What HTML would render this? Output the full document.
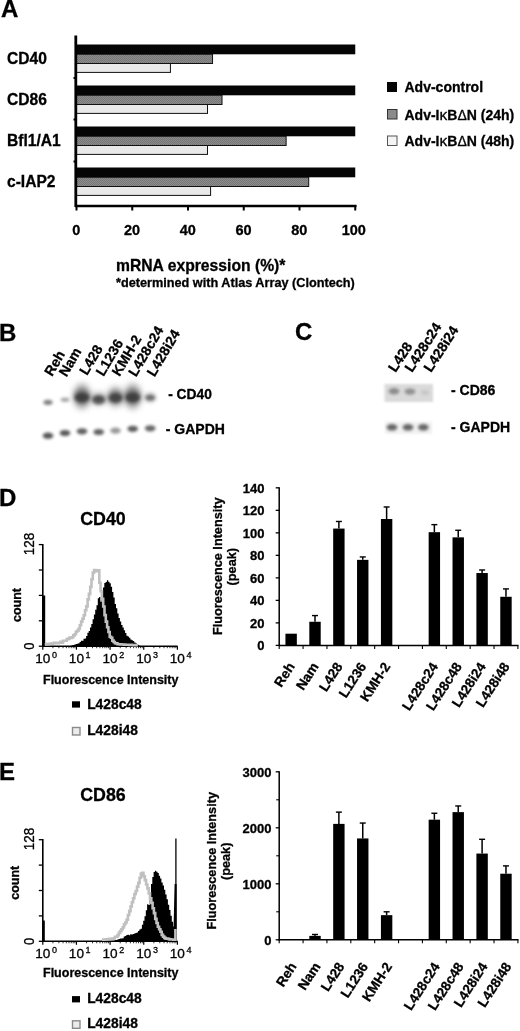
<!DOCTYPE html>
<html lang="en"><head><meta charset="utf-8"><title>Figure</title>
<style>
html,body{margin:0;padding:0;background:#fff;}
body{width:520px;height:1031px;overflow:hidden;}
svg{display:block;font-family:"Liberation Sans", Arial, Helvetica, sans-serif;}
text{fill:#000;stroke:#000;stroke-width:0.3px;}
svg{filter:grayscale(1);}
</style></head><body>
<svg width="520" height="1031" viewBox="0 0 520 1031">
<defs>
<pattern id="halftone" width="2" height="2" patternUnits="userSpaceOnUse"><rect width="2" height="2" fill="#8c8c8c"/><rect width="1" height="1" fill="#747474"/><rect x="1" y="1" width="1" height="1" fill="#787878"/></pattern>
<filter id="b1" x="-30%" y="-30%" width="160%" height="160%"><feGaussianBlur stdDeviation="0.8"/></filter>
<filter id="b2" x="-50%" y="-80%" width="200%" height="260%"><feGaussianBlur stdDeviation="1.4"/></filter>
<filter id="b3" x="-50%" y="-50%" width="200%" height="200%"><feGaussianBlur stdDeviation="2.2"/></filter>
<filter id="b4" x="-60%" y="-60%" width="220%" height="220%"><feGaussianBlur stdDeviation="3"/></filter>
</defs>
<rect width="520" height="1031" fill="#fff"/>

<g id="panelA">
<text x="1" y="17.4" font-size="24" font-weight="bold" text-anchor="start">A</text>
<text x="7" y="64.0" font-size="15.6" font-weight="bold" text-anchor="start">CD40</text>
<rect x="76.50" y="44.50" width="278.75" height="9.80" fill="#050505"/>
<rect x="76.50" y="54.30" width="136.03" height="9.20" fill="url(#halftone)" stroke="#111" stroke-width="1"/>
<rect x="76.50" y="63.50" width="93.94" height="8.90" fill="#e9e9e9" stroke="#111" stroke-width="1"/>
<text x="7" y="105.0" font-size="15.6" font-weight="bold" text-anchor="start">CD86</text>
<rect x="76.50" y="85.50" width="278.75" height="9.80" fill="#050505"/>
<rect x="76.50" y="95.30" width="145.51" height="9.20" fill="url(#halftone)" stroke="#111" stroke-width="1"/>
<rect x="76.50" y="104.50" width="131.01" height="8.90" fill="#e9e9e9" stroke="#111" stroke-width="1"/>
<text x="7" y="145.5" font-size="15.6" font-weight="bold" text-anchor="start">Bfl1/A1</text>
<rect x="76.50" y="126.50" width="278.75" height="9.80" fill="#050505"/>
<rect x="76.50" y="136.30" width="209.62" height="9.20" fill="url(#halftone)" stroke="#111" stroke-width="1"/>
<rect x="76.50" y="145.50" width="131.01" height="8.90" fill="#e9e9e9" stroke="#111" stroke-width="1"/>
<text x="7" y="187.0" font-size="15.6" font-weight="bold" text-anchor="start">c-IAP2</text>
<rect x="76.50" y="167.50" width="278.75" height="9.80" fill="#050505"/>
<rect x="76.50" y="177.30" width="232.20" height="9.20" fill="url(#halftone)" stroke="#111" stroke-width="1"/>
<rect x="76.50" y="186.50" width="134.08" height="8.90" fill="#e9e9e9" stroke="#111" stroke-width="1"/>
<line x1="75.80" y1="35.50" x2="75.80" y2="207.00" stroke="#000" stroke-width="2.8"/>
<line x1="75.00" y1="206.00" x2="356.50" y2="206.00" stroke="#000" stroke-width="2.4"/>
<line x1="76.50" y1="205.00" x2="76.50" y2="210.50" stroke="#000" stroke-width="2"/>
<text x="76.3" y="234.5" font-size="14.5" font-weight="bold" text-anchor="middle">0</text>
<line x1="132.25" y1="205.00" x2="132.25" y2="210.50" stroke="#000" stroke-width="2"/>
<text x="132.05" y="234.5" font-size="14.5" font-weight="bold" text-anchor="middle">20</text>
<line x1="188.00" y1="205.00" x2="188.00" y2="210.50" stroke="#000" stroke-width="2"/>
<text x="187.8" y="234.5" font-size="14.5" font-weight="bold" text-anchor="middle">40</text>
<line x1="243.75" y1="205.00" x2="243.75" y2="210.50" stroke="#000" stroke-width="2"/>
<text x="243.55" y="234.5" font-size="14.5" font-weight="bold" text-anchor="middle">60</text>
<line x1="299.50" y1="205.00" x2="299.50" y2="210.50" stroke="#000" stroke-width="2"/>
<text x="299.3" y="234.5" font-size="14.5" font-weight="bold" text-anchor="middle">80</text>
<line x1="355.25" y1="205.00" x2="355.25" y2="210.50" stroke="#000" stroke-width="2"/>
<text x="353.75" y="234.5" font-size="14.5" font-weight="bold" text-anchor="middle">100</text>
<line x1="73.50" y1="78.00" x2="76.00" y2="78.00" stroke="#000" stroke-width="2"/>
<line x1="73.50" y1="119.50" x2="76.00" y2="119.50" stroke="#000" stroke-width="2"/>
<line x1="73.50" y1="161.50" x2="76.00" y2="161.50" stroke="#000" stroke-width="2"/>
<text x="116" y="270.5" font-size="15.7" font-weight="bold" text-anchor="start">mRNA expression (%)*</text>
<text x="116" y="286.5" font-size="12.7" font-weight="bold" text-anchor="start">*determined with Atlas Array (Clontech)</text>
<rect x="387.00" y="82.00" width="10.00" height="10.00" fill="#050505"/>
<rect x="387.50" y="109.50" width="9.50" height="9.50" fill="#8a8a8a" stroke="#333" stroke-width="1"/>
<rect x="387.50" y="136.00" width="9.50" height="9.50" fill="#f4f4f4" stroke="#555" stroke-width="1"/>
<text x="404.5" y="92.2" font-size="14" font-weight="bold" text-anchor="start">Adv-control</text>
<text x="404.5" y="119.5" font-size="14" font-weight="bold" text-anchor="start">Adv-I<tspan font-weight="normal" font-size="15.5">κ</tspan>B<tspan font-weight="normal" font-size="14">Δ</tspan>N (24h)</text>
<text x="404.5" y="146.3" font-size="14" font-weight="bold" text-anchor="start">Adv-I<tspan font-weight="normal" font-size="15.5">κ</tspan>B<tspan font-weight="normal" font-size="14">Δ</tspan>N (48h)</text>
</g>
<g id="panelB">
<text x="-1" y="341" font-size="24" font-weight="bold" text-anchor="start">B</text>
<text x="52" y="377" font-size="14" font-weight="bold" text-anchor="start" transform="rotate(-59.5 52 377)">Reh</text>
<text x="66.5" y="377.5" font-size="14" font-weight="bold" text-anchor="start" transform="rotate(-59.5 66.5 377.5)">Nam</text>
<text x="87" y="376" font-size="14" font-weight="bold" text-anchor="start" transform="rotate(-59.5 87 376)">L428</text>
<text x="103.5" y="377" font-size="14" font-weight="bold" text-anchor="start" transform="rotate(-59.5 103.5 377)">L1236</text>
<text x="119.5" y="377" font-size="14" font-weight="bold" text-anchor="start" transform="rotate(-59.5 119.5 377)">KMH-2</text>
<text x="136" y="377.5" font-size="14" font-weight="bold" text-anchor="start" transform="rotate(-59.5 136 377.5)">L428c24</text>
<text x="154.5" y="377.5" font-size="14" font-weight="bold" text-anchor="start" transform="rotate(-59.5 154.5 377.5)">L428i24</text>
<ellipse cx="48" cy="402.3" rx="4.6" ry="2.6" fill="#000" fill-opacity="0.5" filter="url(#b2)"/>
<ellipse cx="65" cy="399.8" rx="4.4" ry="2.2" fill="#000" fill-opacity="0.34" filter="url(#b2)"/>
<ellipse cx="82" cy="396.3" rx="8.6" ry="12.5" fill="#000" fill-opacity="0.36" filter="url(#b4)"/>
<ellipse cx="82" cy="396.8" rx="8.299999999999999" ry="7.5" fill="#000" fill-opacity="0.34" filter="url(#b3)"/>
<ellipse cx="82" cy="397.5" rx="7.3999999999999995" ry="4.6" fill="#000" fill-opacity="0.42" filter="url(#b2)"/>
<ellipse cx="98.7" cy="398.8" rx="7.4" ry="6.0" fill="#000" fill-opacity="0.36" filter="url(#b4)"/>
<ellipse cx="98.7" cy="399.3" rx="7.1000000000000005" ry="3.5999999999999996" fill="#000" fill-opacity="0.34" filter="url(#b3)"/>
<ellipse cx="98.7" cy="400.0" rx="6.2" ry="4.6" fill="#000" fill-opacity="0.36" filter="url(#b2)"/>
<ellipse cx="115.5" cy="396.8" rx="8.0" ry="10" fill="#000" fill-opacity="0.36" filter="url(#b4)"/>
<ellipse cx="115.5" cy="397.3" rx="7.7" ry="6.0" fill="#000" fill-opacity="0.34" filter="url(#b3)"/>
<ellipse cx="115.5" cy="398.0" rx="6.8" ry="4.6" fill="#000" fill-opacity="0.38" filter="url(#b2)"/>
<ellipse cx="132.7" cy="396.3" rx="8.6" ry="12.5" fill="#000" fill-opacity="0.36" filter="url(#b4)"/>
<ellipse cx="132.7" cy="396.8" rx="8.299999999999999" ry="7.5" fill="#000" fill-opacity="0.34" filter="url(#b3)"/>
<ellipse cx="132.7" cy="397.5" rx="7.3999999999999995" ry="4.6" fill="#000" fill-opacity="0.42" filter="url(#b2)"/>
<ellipse cx="150.2" cy="397.5" rx="5.6" ry="4.4" fill="#000" fill-opacity="0.34" filter="url(#b3)"/>
<ellipse cx="150.2" cy="397.8" rx="4.8" ry="2.7" fill="#000" fill-opacity="0.36" filter="url(#b2)"/>
<ellipse cx="48" cy="435.7" rx="5.3" ry="3.1" fill="#000" fill-opacity="0.66" filter="url(#b2)"/>
<ellipse cx="65" cy="433" rx="5.3" ry="3.1" fill="#000" fill-opacity="0.66" filter="url(#b2)"/>
<ellipse cx="82" cy="431.3" rx="5.3" ry="3.1" fill="#000" fill-opacity="0.62" filter="url(#b2)"/>
<ellipse cx="98.7" cy="432" rx="5.3" ry="3.1" fill="#000" fill-opacity="0.62" filter="url(#b2)"/>
<ellipse cx="115.5" cy="430.6" rx="5.3" ry="3.1" fill="#000" fill-opacity="0.4" filter="url(#b2)"/>
<ellipse cx="132.7" cy="428.8" rx="5.3" ry="3.1" fill="#000" fill-opacity="0.64" filter="url(#b2)"/>
<ellipse cx="150.2" cy="428.3" rx="5.3" ry="3.1" fill="#000" fill-opacity="0.6" filter="url(#b2)"/>
<text x="168.2" y="399.3" font-size="13.8" font-weight="bold" text-anchor="start">- CD40</text>
<text x="165.8" y="434.2" font-size="14" font-weight="bold" text-anchor="start">- GAPDH</text>
</g>
<g id="panelC">
<text x="295" y="340" font-size="24" font-weight="bold" text-anchor="start">C</text>
<text x="395.5" y="373" font-size="14" font-weight="bold" text-anchor="start" transform="rotate(-57 395.5 373)">L428</text>
<text x="412" y="373" font-size="14" font-weight="bold" text-anchor="start" transform="rotate(-57 412 373)">L428c24</text>
<text x="431" y="373" font-size="14" font-weight="bold" text-anchor="start" transform="rotate(-57 431 373)">L428i24</text>
<rect x="384.5" y="384" width="48.5" height="18" fill="#dadada" filter="url(#b1)"/>
<ellipse cx="394" cy="391.2" rx="5.4" ry="3.2" fill="#000" fill-opacity="0.36" filter="url(#b2)"/>
<ellipse cx="410" cy="391.6" rx="5.4" ry="3.2" fill="#000" fill-opacity="0.34" filter="url(#b2)"/>
<ellipse cx="425" cy="392.5" rx="4" ry="2.6" fill="#000" fill-opacity="0.09" filter="url(#b2)"/>
<rect x="385" y="421.5" width="47" height="12.5" fill="#f1f1f1" filter="url(#b1)"/>
<ellipse cx="392" cy="427.3" rx="5.3" ry="3.3" fill="#000" fill-opacity="0.58" filter="url(#b2)"/>
<ellipse cx="408" cy="427.3" rx="5.3" ry="3.3" fill="#000" fill-opacity="0.58" filter="url(#b2)"/>
<ellipse cx="423.3" cy="427.3" rx="5.3" ry="3.3" fill="#000" fill-opacity="0.58" filter="url(#b2)"/>
<text x="451" y="394.5" font-size="14" font-weight="bold" text-anchor="start">- CD86</text>
<text x="451" y="432" font-size="14" font-weight="bold" text-anchor="start">- GAPDH</text>
</g>
<text x="-1" y="506" font-size="24" font-weight="bold" text-anchor="start">D</text>
<g id="histD">
<text x="103" y="524.6" font-size="17.8" font-weight="bold" text-anchor="middle">CD40</text>
<line x1="42.80" y1="544.00" x2="42.80" y2="646.70" stroke="#000" stroke-width="1.6"/>
<line x1="42.30" y1="646.20" x2="177.60" y2="646.20" stroke="#000" stroke-width="1.6"/>
<line x1="38.80" y1="646.20" x2="42.80" y2="646.20" stroke="#000" stroke-width="1.3"/>
<line x1="38.80" y1="620.80" x2="42.80" y2="620.80" stroke="#000" stroke-width="1.3"/>
<line x1="38.80" y1="595.40" x2="42.80" y2="595.40" stroke="#000" stroke-width="1.3"/>
<line x1="38.80" y1="570.00" x2="42.80" y2="570.00" stroke="#000" stroke-width="1.3"/>
<line x1="38.80" y1="544.60" x2="42.80" y2="544.60" stroke="#000" stroke-width="1.3"/>
<line x1="42.80" y1="646.20" x2="42.80" y2="649.70" stroke="#000" stroke-width="1.2"/>
<line x1="52.93" y1="646.20" x2="52.93" y2="648.20" stroke="#000" stroke-width="0.8"/>
<line x1="58.86" y1="646.20" x2="58.86" y2="648.20" stroke="#000" stroke-width="0.8"/>
<line x1="63.06" y1="646.20" x2="63.06" y2="648.20" stroke="#000" stroke-width="0.8"/>
<line x1="66.32" y1="646.20" x2="66.32" y2="648.20" stroke="#000" stroke-width="0.8"/>
<line x1="68.98" y1="646.20" x2="68.98" y2="648.20" stroke="#000" stroke-width="0.8"/>
<line x1="71.24" y1="646.20" x2="71.24" y2="648.20" stroke="#000" stroke-width="0.8"/>
<line x1="73.19" y1="646.20" x2="73.19" y2="648.20" stroke="#000" stroke-width="0.8"/>
<line x1="74.91" y1="646.20" x2="74.91" y2="648.20" stroke="#000" stroke-width="0.8"/>
<text x="35.199999999999996" y="662.7" font-size="13.6" font-weight="normal" text-anchor="start">10<tspan font-size="9" dy="-5" dx="1.6">0</tspan></text>
<line x1="76.45" y1="646.20" x2="76.45" y2="649.70" stroke="#000" stroke-width="1.2"/>
<line x1="86.58" y1="646.20" x2="86.58" y2="648.20" stroke="#000" stroke-width="0.8"/>
<line x1="92.51" y1="646.20" x2="92.51" y2="648.20" stroke="#000" stroke-width="0.8"/>
<line x1="96.71" y1="646.20" x2="96.71" y2="648.20" stroke="#000" stroke-width="0.8"/>
<line x1="99.97" y1="646.20" x2="99.97" y2="648.20" stroke="#000" stroke-width="0.8"/>
<line x1="102.63" y1="646.20" x2="102.63" y2="648.20" stroke="#000" stroke-width="0.8"/>
<line x1="104.89" y1="646.20" x2="104.89" y2="648.20" stroke="#000" stroke-width="0.8"/>
<line x1="106.84" y1="646.20" x2="106.84" y2="648.20" stroke="#000" stroke-width="0.8"/>
<line x1="108.56" y1="646.20" x2="108.56" y2="648.20" stroke="#000" stroke-width="0.8"/>
<text x="68.85" y="662.7" font-size="13.6" font-weight="normal" text-anchor="start">10<tspan font-size="9" dy="-5" dx="1.6">1</tspan></text>
<line x1="110.10" y1="646.20" x2="110.10" y2="649.70" stroke="#000" stroke-width="1.2"/>
<line x1="120.23" y1="646.20" x2="120.23" y2="648.20" stroke="#000" stroke-width="0.8"/>
<line x1="126.16" y1="646.20" x2="126.16" y2="648.20" stroke="#000" stroke-width="0.8"/>
<line x1="130.36" y1="646.20" x2="130.36" y2="648.20" stroke="#000" stroke-width="0.8"/>
<line x1="133.62" y1="646.20" x2="133.62" y2="648.20" stroke="#000" stroke-width="0.8"/>
<line x1="136.28" y1="646.20" x2="136.28" y2="648.20" stroke="#000" stroke-width="0.8"/>
<line x1="138.54" y1="646.20" x2="138.54" y2="648.20" stroke="#000" stroke-width="0.8"/>
<line x1="140.49" y1="646.20" x2="140.49" y2="648.20" stroke="#000" stroke-width="0.8"/>
<line x1="142.21" y1="646.20" x2="142.21" y2="648.20" stroke="#000" stroke-width="0.8"/>
<text x="102.5" y="662.7" font-size="13.6" font-weight="normal" text-anchor="start">10<tspan font-size="9" dy="-5" dx="1.6">2</tspan></text>
<line x1="143.75" y1="646.20" x2="143.75" y2="649.70" stroke="#000" stroke-width="1.2"/>
<line x1="153.88" y1="646.20" x2="153.88" y2="648.20" stroke="#000" stroke-width="0.8"/>
<line x1="159.81" y1="646.20" x2="159.81" y2="648.20" stroke="#000" stroke-width="0.8"/>
<line x1="164.01" y1="646.20" x2="164.01" y2="648.20" stroke="#000" stroke-width="0.8"/>
<line x1="167.27" y1="646.20" x2="167.27" y2="648.20" stroke="#000" stroke-width="0.8"/>
<line x1="169.93" y1="646.20" x2="169.93" y2="648.20" stroke="#000" stroke-width="0.8"/>
<line x1="172.19" y1="646.20" x2="172.19" y2="648.20" stroke="#000" stroke-width="0.8"/>
<line x1="174.14" y1="646.20" x2="174.14" y2="648.20" stroke="#000" stroke-width="0.8"/>
<line x1="175.86" y1="646.20" x2="175.86" y2="648.20" stroke="#000" stroke-width="0.8"/>
<text x="136.15" y="662.7" font-size="13.6" font-weight="normal" text-anchor="start">10<tspan font-size="9" dy="-5" dx="1.6">3</tspan></text>
<line x1="177.40" y1="646.20" x2="177.40" y2="649.70" stroke="#000" stroke-width="1.2"/>
<text x="169.79999999999998" y="662.7" font-size="13.6" font-weight="normal" text-anchor="start">10<tspan font-size="9" dy="-5" dx="1.6">4</tspan></text>
<text x="34.2" y="555.2" font-size="15" font-weight="normal" text-anchor="start" transform="rotate(-90 34.2 555.2)" textLength="22.6" lengthAdjust="spacingAndGlyphs">128</text>
<text x="34.2" y="649.8000000000001" font-size="15" font-weight="normal" text-anchor="start" transform="rotate(-90 34.2 649.8000000000001)" textLength="7.2" lengthAdjust="spacingAndGlyphs">0</text>
<text x="20.8" y="605" font-size="12.5" font-weight="bold" text-anchor="middle" transform="rotate(-90 20.8 605)">count</text>
<path d="M69.2,646.2 L69.2,646.0 L70.5,646.0 L70.5,645.7 L71.8,645.7 L71.8,645.3 L73.1,645.3 L73.1,644.9 L74.4,644.9 L74.4,644.5 L75.7,644.5 L75.7,644.1 L77.0,644.1 L77.0,643.7 L78.3,643.7 L78.3,643.3 L79.6,643.3 L79.6,642.1 L80.9,642.1 L80.9,640.8 L82.2,640.8 L82.2,640.7 L83.5,640.7 L83.5,638.8 L84.8,638.8 L84.8,638.5 L86.1,638.5 L86.1,635.9 L87.4,635.9 L87.4,632.8 L88.7,632.8 L88.7,631.1 L90.0,631.1 L90.0,627.5 L91.3,627.5 L91.3,624.0 L92.6,624.0 L92.6,619.3 L93.9,619.3 L93.9,614.5 L95.2,614.5 L95.2,609.8 L96.5,609.8 L96.5,605.2 L97.8,605.2 L97.8,598.3 L99.1,598.3 L99.1,597.0 L100.4,597.0 L100.4,601.8 L101.7,601.8 L101.7,596.1 L103.0,596.1 L103.0,587.6 L104.3,587.6 L104.3,583.1 L105.6,583.1 L105.6,582.0 L106.9,582.0 L106.9,580.3 L108.2,580.3 L108.2,581.7 L109.5,581.7 L109.5,583.3 L110.8,583.3 L110.8,586.8 L112.1,586.8 L112.1,592.0 L113.4,592.0 L113.4,597.6 L114.7,597.6 L114.7,603.9 L116.0,603.9 L116.0,608.3 L117.3,608.3 L117.3,613.5 L118.6,613.5 L118.6,618.1 L119.9,618.1 L119.9,621.6 L121.2,621.6 L121.2,625.1 L122.5,625.1 L122.5,627.6 L123.8,627.6 L123.8,630.2 L125.1,630.2 L125.1,633.0 L126.4,633.0 L126.4,635.7 L127.7,635.7 L127.7,636.6 L129.0,636.6 L129.0,637.7 L130.3,637.7 L130.3,639.5 L131.6,639.5 L131.6,640.3 L132.9,640.3 L132.9,640.9 L134.2,640.9 L134.2,642.5 L135.5,642.5 L135.5,643.2 L136.8,643.2 L136.8,643.9 L138.1,643.9 L138.1,644.9 L139.4,644.9 L139.4,645.9 L140.5,645.9 L140.5,646.2Z" fill="#000"/>
<rect x="42.30" y="595.50" width="2.90" height="50.70" fill="#000"/>
<path d="M44.7,644.5 L46.0,644.5 L46.0,644.3 L47.3,644.3 L47.3,644.1 L48.6,644.1 L48.6,643.9 L49.9,643.9 L49.9,643.8 L51.2,643.8 L51.2,643.6 L52.5,643.6 L52.5,643.4 L53.8,643.4 L53.8,642.8 L55.1,642.8 L55.1,643.1 L56.4,643.1 L56.4,642.9 L57.7,642.9 L57.7,643.2 L59.0,643.2 L59.0,642.8 L60.3,642.8 L60.3,641.9 L61.6,641.9 L61.6,642.8 L62.9,642.8 L62.9,640.9 L64.2,640.9 L64.2,640.8 L65.5,640.8 L65.5,640.7 L66.8,640.7 L66.8,639.1 L68.1,639.1 L68.1,638.9 L69.4,638.9 L69.4,637.6 L70.7,637.6 L70.7,637.9 L72.0,637.9 L72.0,637.3 L73.3,637.3 L73.3,635.4 L74.6,635.4 L74.6,634.2 L75.9,634.2 L75.9,631.7 L77.2,631.7 L77.2,630.7 L78.5,630.7 L78.5,628.7 L79.8,628.7 L79.8,625.2 L81.1,625.2 L81.1,621.6 L82.4,621.6 L82.4,618.7 L83.7,618.7 L83.7,615.2 L85.0,615.2 L85.0,610.3 L86.3,610.3 L86.3,606.4 L87.6,606.4 L87.6,599.4 L88.9,599.4 L88.9,593.9 L90.2,593.9 L90.2,586.9 L91.5,586.9 L91.5,579.3 L92.8,579.3 L92.8,572.6 L94.1,572.6 L94.1,570.1 L95.4,570.1 L95.4,570.5 L96.7,570.5 L96.7,571.1 L98.0,571.1 L98.0,570.4 L99.3,570.4 L99.3,582.8 L100.6,582.8 L100.6,591.1 L101.9,591.1 L101.9,598.8 L103.2,598.8 L103.2,606.5 L104.5,606.5 L104.5,615.1 L105.8,615.1 L105.8,621.6 L107.1,621.6 L107.1,627.2 L108.4,627.2 L108.4,632.0 L109.7,632.0 L109.7,636.8 L111.0,636.8 L111.0,637.8 L112.3,637.8 L112.3,640.6 L113.6,640.6 L113.6,642.0 L114.9,642.0 L114.9,643.3 L116.2,643.3 L116.2,643.4 L117.5,643.4 L117.5,644.2 L118.8,644.2 L118.8,644.3 L120.1,644.3 L120.1,644.4 L121.4,644.4 L121.4,644.5 L122.7,644.5 L122.7,644.5 L124.0,644.5 L124.0,644.6 L125.3,644.6 L125.3,644.7 L126.6,644.7 L126.6,644.7 L127.9,644.7 L127.9,644.8 L129.2,644.8 L129.2,644.9 L130.5,644.9 L130.5,644.9 L131.8,644.9 L131.8,645.0 L133.1,645.0 L133.1,645.1 L134.4,645.1 L134.4,645.1 L135.7,645.1 L135.7,645.2 L137.0,645.2 L137.0,645.3 L137.9,645.3" fill="none" stroke="#c0c0c0" stroke-width="2.6" stroke-linejoin="miter"/>
<text x="43" y="683.6" font-size="12.5" font-weight="bold" text-anchor="start">Fluorescence Intensity</text>
<rect x="72.00" y="701.30" width="8.00" height="6.30" fill="#000"/>
<text x="87.2" y="708.5" font-size="13.8" font-weight="bold" text-anchor="start">L428c48</text>
<rect x="72.50" y="727.50" width="7.50" height="7.50" fill="#ececec" stroke="#8a8a8a" stroke-width="1.4"/>
<text x="87.2" y="735.0" font-size="13.8" font-weight="bold" text-anchor="start">L428i48</text>
</g>
<g id="barsD">
<line x1="279.20" y1="487.33" x2="279.20" y2="646.00" stroke="#000" stroke-width="1.5"/>
<line x1="278.70" y1="645.40" x2="518.50" y2="645.40" stroke="#000" stroke-width="1.5"/>
<line x1="275.70" y1="645.40" x2="279.20" y2="645.40" stroke="#000" stroke-width="1.3"/>
<text x="264.5" y="650.1" font-size="13" font-weight="bold" text-anchor="end">0</text>
<line x1="275.70" y1="622.89" x2="279.20" y2="622.89" stroke="#000" stroke-width="1.3"/>
<text x="264.5" y="627.59" font-size="13" font-weight="bold" text-anchor="end">20</text>
<line x1="275.70" y1="600.38" x2="279.20" y2="600.38" stroke="#000" stroke-width="1.3"/>
<text x="264.5" y="605.08" font-size="13" font-weight="bold" text-anchor="end">40</text>
<line x1="275.70" y1="577.87" x2="279.20" y2="577.87" stroke="#000" stroke-width="1.3"/>
<text x="264.5" y="582.57" font-size="13" font-weight="bold" text-anchor="end">60</text>
<line x1="275.70" y1="555.36" x2="279.20" y2="555.36" stroke="#000" stroke-width="1.3"/>
<text x="264.5" y="560.0600000000001" font-size="13" font-weight="bold" text-anchor="end">80</text>
<line x1="275.70" y1="532.85" x2="279.20" y2="532.85" stroke="#000" stroke-width="1.3"/>
<text x="264.5" y="537.5500000000001" font-size="13" font-weight="bold" text-anchor="end">100</text>
<line x1="275.70" y1="510.34" x2="279.20" y2="510.34" stroke="#000" stroke-width="1.3"/>
<text x="264.5" y="515.04" font-size="13" font-weight="bold" text-anchor="end">120</text>
<line x1="275.70" y1="487.83" x2="279.20" y2="487.83" stroke="#000" stroke-width="1.3"/>
<text x="264.5" y="492.53" font-size="13" font-weight="bold" text-anchor="end">140</text>
<line x1="279.20" y1="645.40" x2="279.20" y2="648.90" stroke="#000" stroke-width="1.1"/>
<line x1="303.07" y1="645.40" x2="303.07" y2="648.90" stroke="#000" stroke-width="1.1"/>
<line x1="326.94" y1="645.40" x2="326.94" y2="648.90" stroke="#000" stroke-width="1.1"/>
<line x1="350.81" y1="645.40" x2="350.81" y2="648.90" stroke="#000" stroke-width="1.1"/>
<line x1="374.68" y1="645.40" x2="374.68" y2="648.90" stroke="#000" stroke-width="1.1"/>
<line x1="398.55" y1="645.40" x2="398.55" y2="648.90" stroke="#000" stroke-width="1.1"/>
<line x1="422.42" y1="645.40" x2="422.42" y2="648.90" stroke="#000" stroke-width="1.1"/>
<line x1="446.29" y1="645.40" x2="446.29" y2="648.90" stroke="#000" stroke-width="1.1"/>
<line x1="470.16" y1="645.40" x2="470.16" y2="648.90" stroke="#000" stroke-width="1.1"/>
<line x1="494.03" y1="645.40" x2="494.03" y2="648.90" stroke="#000" stroke-width="1.1"/>
<line x1="517.90" y1="645.40" x2="517.90" y2="648.90" stroke="#000" stroke-width="1.1"/>
<rect x="285.44" y="633.69" width="11.40" height="11.71" fill="#000"/>
<text x="295.335" y="666.4" font-size="13.6" font-weight="bold" text-anchor="end" transform="rotate(-57 295.335 666.4)">Reh</text>
<rect x="309.31" y="621.76" width="11.40" height="23.64" fill="#000"/>
<line x1="315.00" y1="615.57" x2="315.00" y2="621.76" stroke="#000" stroke-width="1.5"/>
<line x1="312.00" y1="615.57" x2="318.00" y2="615.57" stroke="#000" stroke-width="1.4"/>
<text x="319.205" y="666.4" font-size="13.6" font-weight="bold" text-anchor="end" transform="rotate(-57 319.205 666.4)">Nam</text>
<rect x="333.18" y="528.57" width="11.40" height="116.83" fill="#000"/>
<line x1="338.88" y1="521.48" x2="338.88" y2="528.57" stroke="#000" stroke-width="1.5"/>
<line x1="335.88" y1="521.48" x2="341.88" y2="521.48" stroke="#000" stroke-width="1.4"/>
<text x="343.075" y="666.4" font-size="13.6" font-weight="bold" text-anchor="end" transform="rotate(-57 343.075 666.4)">L428</text>
<rect x="357.05" y="559.86" width="11.40" height="85.54" fill="#000"/>
<line x1="362.75" y1="556.94" x2="362.75" y2="559.86" stroke="#000" stroke-width="1.5"/>
<line x1="359.75" y1="556.94" x2="365.75" y2="556.94" stroke="#000" stroke-width="1.4"/>
<text x="366.945" y="666.4" font-size="13.6" font-weight="bold" text-anchor="end" transform="rotate(-57 366.945 666.4)">L1236</text>
<rect x="380.92" y="519.01" width="11.40" height="126.39" fill="#000"/>
<line x1="386.62" y1="506.96" x2="386.62" y2="519.01" stroke="#000" stroke-width="1.5"/>
<line x1="383.62" y1="506.96" x2="389.62" y2="506.96" stroke="#000" stroke-width="1.4"/>
<text x="390.815" y="666.4" font-size="13.6" font-weight="bold" text-anchor="end" transform="rotate(-57 390.815 666.4)">KMH-2</text>
<rect x="428.66" y="532.17" width="11.40" height="113.23" fill="#000"/>
<line x1="434.36" y1="524.63" x2="434.36" y2="532.17" stroke="#000" stroke-width="1.5"/>
<line x1="431.36" y1="524.63" x2="437.36" y2="524.63" stroke="#000" stroke-width="1.4"/>
<text x="438.555" y="666.4" font-size="13.6" font-weight="bold" text-anchor="end" transform="rotate(-57 438.555 666.4)">L428c24</text>
<rect x="452.53" y="537.35" width="11.40" height="108.05" fill="#000"/>
<line x1="458.23" y1="530.26" x2="458.23" y2="537.35" stroke="#000" stroke-width="1.5"/>
<line x1="455.23" y1="530.26" x2="461.23" y2="530.26" stroke="#000" stroke-width="1.4"/>
<text x="462.425" y="666.4" font-size="13.6" font-weight="bold" text-anchor="end" transform="rotate(-57 462.425 666.4)">L428c48</text>
<rect x="476.40" y="573.03" width="11.40" height="72.37" fill="#000"/>
<line x1="482.10" y1="569.99" x2="482.10" y2="573.03" stroke="#000" stroke-width="1.5"/>
<line x1="479.10" y1="569.99" x2="485.10" y2="569.99" stroke="#000" stroke-width="1.4"/>
<text x="486.295" y="666.4" font-size="13.6" font-weight="bold" text-anchor="end" transform="rotate(-57 486.295 666.4)">L428i24</text>
<rect x="500.27" y="596.78" width="11.40" height="48.62" fill="#000"/>
<line x1="505.97" y1="588.90" x2="505.97" y2="596.78" stroke="#000" stroke-width="1.5"/>
<line x1="502.97" y1="588.90" x2="508.97" y2="588.90" stroke="#000" stroke-width="1.4"/>
<text x="510.165" y="666.4" font-size="13.6" font-weight="bold" text-anchor="end" transform="rotate(-57 510.165 666.4)">L428i48</text>
<text x="221.6" y="566.2" font-size="12.7" font-weight="bold" text-anchor="middle" transform="rotate(-90 221.6 566.2)">Fluorescence Intensity</text>
<text x="235.6" y="566.7" font-size="12.7" font-weight="bold" text-anchor="middle" transform="rotate(-90 235.6 566.7)">(peak)</text>
</g>
<text x="-1" y="779.5" font-size="24" font-weight="bold" text-anchor="start">E</text>
<g id="histE">
<text x="103" y="801" font-size="17.8" font-weight="bold" text-anchor="middle">CD86</text>
<line x1="42.80" y1="839.10" x2="42.80" y2="941.80" stroke="#000" stroke-width="1.6"/>
<line x1="42.30" y1="941.30" x2="177.60" y2="941.30" stroke="#000" stroke-width="1.6"/>
<line x1="38.80" y1="941.30" x2="42.80" y2="941.30" stroke="#000" stroke-width="1.3"/>
<line x1="38.80" y1="915.90" x2="42.80" y2="915.90" stroke="#000" stroke-width="1.3"/>
<line x1="38.80" y1="890.50" x2="42.80" y2="890.50" stroke="#000" stroke-width="1.3"/>
<line x1="38.80" y1="865.10" x2="42.80" y2="865.10" stroke="#000" stroke-width="1.3"/>
<line x1="38.80" y1="839.70" x2="42.80" y2="839.70" stroke="#000" stroke-width="1.3"/>
<line x1="42.80" y1="941.30" x2="42.80" y2="944.80" stroke="#000" stroke-width="1.2"/>
<line x1="52.93" y1="941.30" x2="52.93" y2="943.30" stroke="#000" stroke-width="0.8"/>
<line x1="58.86" y1="941.30" x2="58.86" y2="943.30" stroke="#000" stroke-width="0.8"/>
<line x1="63.06" y1="941.30" x2="63.06" y2="943.30" stroke="#000" stroke-width="0.8"/>
<line x1="66.32" y1="941.30" x2="66.32" y2="943.30" stroke="#000" stroke-width="0.8"/>
<line x1="68.98" y1="941.30" x2="68.98" y2="943.30" stroke="#000" stroke-width="0.8"/>
<line x1="71.24" y1="941.30" x2="71.24" y2="943.30" stroke="#000" stroke-width="0.8"/>
<line x1="73.19" y1="941.30" x2="73.19" y2="943.30" stroke="#000" stroke-width="0.8"/>
<line x1="74.91" y1="941.30" x2="74.91" y2="943.30" stroke="#000" stroke-width="0.8"/>
<text x="35.199999999999996" y="957.8" font-size="13.6" font-weight="normal" text-anchor="start">10<tspan font-size="9" dy="-5" dx="1.6">0</tspan></text>
<line x1="76.45" y1="941.30" x2="76.45" y2="944.80" stroke="#000" stroke-width="1.2"/>
<line x1="86.58" y1="941.30" x2="86.58" y2="943.30" stroke="#000" stroke-width="0.8"/>
<line x1="92.51" y1="941.30" x2="92.51" y2="943.30" stroke="#000" stroke-width="0.8"/>
<line x1="96.71" y1="941.30" x2="96.71" y2="943.30" stroke="#000" stroke-width="0.8"/>
<line x1="99.97" y1="941.30" x2="99.97" y2="943.30" stroke="#000" stroke-width="0.8"/>
<line x1="102.63" y1="941.30" x2="102.63" y2="943.30" stroke="#000" stroke-width="0.8"/>
<line x1="104.89" y1="941.30" x2="104.89" y2="943.30" stroke="#000" stroke-width="0.8"/>
<line x1="106.84" y1="941.30" x2="106.84" y2="943.30" stroke="#000" stroke-width="0.8"/>
<line x1="108.56" y1="941.30" x2="108.56" y2="943.30" stroke="#000" stroke-width="0.8"/>
<text x="68.85" y="957.8" font-size="13.6" font-weight="normal" text-anchor="start">10<tspan font-size="9" dy="-5" dx="1.6">1</tspan></text>
<line x1="110.10" y1="941.30" x2="110.10" y2="944.80" stroke="#000" stroke-width="1.2"/>
<line x1="120.23" y1="941.30" x2="120.23" y2="943.30" stroke="#000" stroke-width="0.8"/>
<line x1="126.16" y1="941.30" x2="126.16" y2="943.30" stroke="#000" stroke-width="0.8"/>
<line x1="130.36" y1="941.30" x2="130.36" y2="943.30" stroke="#000" stroke-width="0.8"/>
<line x1="133.62" y1="941.30" x2="133.62" y2="943.30" stroke="#000" stroke-width="0.8"/>
<line x1="136.28" y1="941.30" x2="136.28" y2="943.30" stroke="#000" stroke-width="0.8"/>
<line x1="138.54" y1="941.30" x2="138.54" y2="943.30" stroke="#000" stroke-width="0.8"/>
<line x1="140.49" y1="941.30" x2="140.49" y2="943.30" stroke="#000" stroke-width="0.8"/>
<line x1="142.21" y1="941.30" x2="142.21" y2="943.30" stroke="#000" stroke-width="0.8"/>
<text x="102.5" y="957.8" font-size="13.6" font-weight="normal" text-anchor="start">10<tspan font-size="9" dy="-5" dx="1.6">2</tspan></text>
<line x1="143.75" y1="941.30" x2="143.75" y2="944.80" stroke="#000" stroke-width="1.2"/>
<line x1="153.88" y1="941.30" x2="153.88" y2="943.30" stroke="#000" stroke-width="0.8"/>
<line x1="159.81" y1="941.30" x2="159.81" y2="943.30" stroke="#000" stroke-width="0.8"/>
<line x1="164.01" y1="941.30" x2="164.01" y2="943.30" stroke="#000" stroke-width="0.8"/>
<line x1="167.27" y1="941.30" x2="167.27" y2="943.30" stroke="#000" stroke-width="0.8"/>
<line x1="169.93" y1="941.30" x2="169.93" y2="943.30" stroke="#000" stroke-width="0.8"/>
<line x1="172.19" y1="941.30" x2="172.19" y2="943.30" stroke="#000" stroke-width="0.8"/>
<line x1="174.14" y1="941.30" x2="174.14" y2="943.30" stroke="#000" stroke-width="0.8"/>
<line x1="175.86" y1="941.30" x2="175.86" y2="943.30" stroke="#000" stroke-width="0.8"/>
<text x="136.15" y="957.8" font-size="13.6" font-weight="normal" text-anchor="start">10<tspan font-size="9" dy="-5" dx="1.6">3</tspan></text>
<line x1="177.40" y1="941.30" x2="177.40" y2="944.80" stroke="#000" stroke-width="1.2"/>
<text x="169.79999999999998" y="957.8" font-size="13.6" font-weight="normal" text-anchor="start">10<tspan font-size="9" dy="-5" dx="1.6">4</tspan></text>
<text x="34.2" y="850.3" font-size="15" font-weight="normal" text-anchor="start" transform="rotate(-90 34.2 850.3)" textLength="22.6" lengthAdjust="spacingAndGlyphs">128</text>
<text x="34.2" y="944.9" font-size="15" font-weight="normal" text-anchor="start" transform="rotate(-90 34.2 944.9)" textLength="7.2" lengthAdjust="spacingAndGlyphs">0</text>
<text x="18.6" y="882.8" font-size="12.5" font-weight="bold" text-anchor="middle" transform="rotate(-90 18.6 882.8)">count</text>
<path d="M114.6,941.3 L114.6,940.3 L115.9,940.3 L115.9,939.9 L117.2,939.9 L117.2,939.4 L118.5,939.4 L118.5,939.0 L119.8,939.0 L119.8,938.5 L121.1,938.5 L121.1,938.6 L122.4,938.6 L122.4,938.2 L123.7,938.2 L123.7,936.6 L125.0,936.6 L125.0,935.9 L126.3,935.9 L126.3,934.9 L127.6,934.9 L127.6,934.8 L128.9,934.8 L128.9,935.2 L130.2,935.2 L130.2,934.3 L131.5,934.3 L131.5,934.6 L132.8,934.6 L132.8,934.0 L134.1,934.0 L134.1,933.4 L135.4,933.4 L135.4,933.1 L136.7,933.1 L136.7,932.4 L138.0,932.4 L138.0,930.9 L139.3,930.9 L139.3,929.4 L140.6,929.4 L140.6,928.8 L141.9,928.8 L141.9,924.8 L143.2,924.8 L143.2,920.8 L144.5,920.8 L144.5,916.2 L145.8,916.2 L145.8,910.3 L147.1,910.3 L147.1,904.2 L148.4,904.2 L148.4,904.9 L149.7,904.9 L149.7,895.8 L151.0,895.8 L151.0,883.9 L152.3,883.9 L152.3,877.1 L153.6,877.1 L153.6,872.0 L154.9,872.0 L154.9,870.7 L156.2,870.7 L156.2,871.7 L157.5,871.7 L157.5,873.1 L158.8,873.1 L158.8,875.7 L160.1,875.7 L160.1,878.4 L161.4,878.4 L161.4,882.6 L162.7,882.6 L162.7,885.5 L164.0,885.5 L164.0,889.7 L165.3,889.7 L165.3,894.4 L166.6,894.4 L166.6,899.3 L167.9,899.3 L167.9,904.8 L169.2,904.8 L169.2,910.0 L170.5,910.0 L170.5,915.8 L171.8,915.8 L171.8,921.7 L173.1,921.7 L173.1,926.5 L174.4,926.5 L174.4,931.3 L175.7,931.3 L175.7,939.9 L176.5,939.9 L176.5,941.3Z" fill="#000"/>
<rect x="42.60" y="920.50" width="2.20" height="20.80" fill="#000"/>
<line x1="175.90" y1="838.50" x2="175.90" y2="941.30" stroke="#000" stroke-width="1.3"/>
<path d="M173.6,941.3 L173.6,926 L174.6,884 L176.6,884 L176.6,941.3Z" fill="#000"/>
<path d="M101.9,939.8 L103.2,939.8 L103.2,939.6 L104.5,939.6 L104.5,939.5 L105.8,939.5 L105.8,939.4 L107.1,939.4 L107.1,939.2 L108.4,939.2 L108.4,939.1 L109.7,939.1 L109.7,938.9 L111.0,938.9 L111.0,938.8 L112.3,938.8 L112.3,938.6 L113.6,938.6 L113.6,938.5 L114.9,938.5 L114.9,936.8 L116.2,936.8 L116.2,936.8 L117.5,936.8 L117.5,935.1 L118.8,935.1 L118.8,932.9 L120.1,932.9 L120.1,931.1 L121.4,931.1 L121.4,929.3 L122.7,929.3 L122.7,927.4 L124.0,927.4 L124.0,924.4 L125.3,924.4 L125.3,922.5 L126.6,922.5 L126.6,919.7 L127.9,919.7 L127.9,915.0 L129.2,915.0 L129.2,911.1 L130.5,911.1 L130.5,906.5 L131.8,906.5 L131.8,902.2 L133.1,902.2 L133.1,898.2 L134.4,898.2 L134.4,894.0 L135.7,894.0 L135.7,891.0 L137.0,891.0 L137.0,886.6 L138.3,886.6 L138.3,882.9 L139.6,882.9 L139.6,877.8 L140.9,877.8 L140.9,873.6 L142.2,873.6 L142.2,872.7 L143.5,872.7 L143.5,876.3 L144.8,876.3 L144.8,880.1 L146.1,880.1 L146.1,884.5 L147.4,884.5 L147.4,888.4 L148.7,888.4 L148.7,893.4 L150.0,893.4 L150.0,898.4 L151.3,898.4 L151.3,902.9 L152.6,902.9 L152.6,908.3 L153.9,908.3 L153.9,913.1 L155.2,913.1 L155.2,918.9 L156.5,918.9 L156.5,923.0 L157.8,923.0 L157.8,926.8 L159.1,926.8 L159.1,929.3 L160.4,929.3 L160.4,931.7 L161.7,931.7 L161.7,934.9 L163.0,934.9 L163.0,936.6 L164.3,936.6 L164.3,937.9 L165.6,937.9 L165.6,938.6 L166.9,938.6 L166.9,938.5 L168.2,938.5 L168.2,939.0 L169.5,939.0 L169.5,939.4 L170.8,939.4 L170.8,939.5 L172.1,939.5 L172.1,939.5 L173.4,939.5 L173.4,939.6 L174.7,939.6 L174.7,939.6 L175.1,939.6 L175.4,939.6 L175.4,929.0" fill="none" stroke="#c0c0c0" stroke-width="2.6" stroke-linejoin="miter"/>
<text x="43" y="977.3" font-size="12.5" font-weight="bold" text-anchor="start">Fluorescence Intensity</text>
<rect x="72.00" y="996.10" width="8.00" height="6.30" fill="#000"/>
<text x="87.2" y="1003.3" font-size="13.8" font-weight="bold" text-anchor="start">L428c48</text>
<rect x="72.50" y="1020.80" width="7.50" height="7.50" fill="#ececec" stroke="#8a8a8a" stroke-width="1.4"/>
<text x="87.2" y="1028.3" font-size="13.8" font-weight="bold" text-anchor="start">L428i48</text>
</g>
<g id="barsE">
<line x1="279.20" y1="771.30" x2="279.20" y2="940.40" stroke="#000" stroke-width="1.5"/>
<line x1="278.70" y1="939.80" x2="518.50" y2="939.80" stroke="#000" stroke-width="1.5"/>
<line x1="275.70" y1="939.80" x2="279.20" y2="939.80" stroke="#000" stroke-width="1.3"/>
<text x="271.5" y="944.5" font-size="13" font-weight="bold" text-anchor="end">0</text>
<line x1="275.70" y1="883.80" x2="279.20" y2="883.80" stroke="#000" stroke-width="1.3"/>
<text x="271.5" y="888.5" font-size="13" font-weight="bold" text-anchor="end">1000</text>
<line x1="275.70" y1="827.80" x2="279.20" y2="827.80" stroke="#000" stroke-width="1.3"/>
<text x="271.5" y="832.5" font-size="13" font-weight="bold" text-anchor="end">2000</text>
<line x1="275.70" y1="771.80" x2="279.20" y2="771.80" stroke="#000" stroke-width="1.3"/>
<text x="271.5" y="776.5" font-size="13" font-weight="bold" text-anchor="end">3000</text>
<line x1="276.20" y1="911.80" x2="279.20" y2="911.80" stroke="#000" stroke-width="1.1"/>
<line x1="276.20" y1="855.80" x2="279.20" y2="855.80" stroke="#000" stroke-width="1.1"/>
<line x1="276.20" y1="799.80" x2="279.20" y2="799.80" stroke="#000" stroke-width="1.1"/>
<line x1="279.20" y1="939.80" x2="279.20" y2="943.30" stroke="#000" stroke-width="1.1"/>
<line x1="303.07" y1="939.80" x2="303.07" y2="943.30" stroke="#000" stroke-width="1.1"/>
<line x1="326.94" y1="939.80" x2="326.94" y2="943.30" stroke="#000" stroke-width="1.1"/>
<line x1="350.81" y1="939.80" x2="350.81" y2="943.30" stroke="#000" stroke-width="1.1"/>
<line x1="374.68" y1="939.80" x2="374.68" y2="943.30" stroke="#000" stroke-width="1.1"/>
<line x1="398.55" y1="939.80" x2="398.55" y2="943.30" stroke="#000" stroke-width="1.1"/>
<line x1="422.42" y1="939.80" x2="422.42" y2="943.30" stroke="#000" stroke-width="1.1"/>
<line x1="446.29" y1="939.80" x2="446.29" y2="943.30" stroke="#000" stroke-width="1.1"/>
<line x1="470.16" y1="939.80" x2="470.16" y2="943.30" stroke="#000" stroke-width="1.1"/>
<line x1="494.03" y1="939.80" x2="494.03" y2="943.30" stroke="#000" stroke-width="1.1"/>
<line x1="517.90" y1="939.80" x2="517.90" y2="943.30" stroke="#000" stroke-width="1.1"/>
<rect x="285.44" y="939.13" width="11.40" height="0.67" fill="#000"/>
<text x="297.135" y="966.3" font-size="13.6" font-weight="bold" text-anchor="end" transform="rotate(-57 297.135 966.3)">Reh</text>
<rect x="309.31" y="935.88" width="11.40" height="3.92" fill="#000"/>
<line x1="315.00" y1="934.48" x2="315.00" y2="935.88" stroke="#000" stroke-width="1.5"/>
<line x1="312.00" y1="934.48" x2="318.00" y2="934.48" stroke="#000" stroke-width="1.4"/>
<text x="321.005" y="966.3" font-size="13.6" font-weight="bold" text-anchor="end" transform="rotate(-57 321.005 966.3)">Nam</text>
<rect x="333.18" y="823.88" width="11.40" height="115.92" fill="#000"/>
<line x1="338.88" y1="812.12" x2="338.88" y2="823.88" stroke="#000" stroke-width="1.5"/>
<line x1="335.88" y1="812.12" x2="341.88" y2="812.12" stroke="#000" stroke-width="1.4"/>
<text x="344.875" y="966.3" font-size="13.6" font-weight="bold" text-anchor="end" transform="rotate(-57 344.875 966.3)">L428</text>
<rect x="357.05" y="838.44" width="11.40" height="101.36" fill="#000"/>
<line x1="362.75" y1="823.04" x2="362.75" y2="838.44" stroke="#000" stroke-width="1.5"/>
<line x1="359.75" y1="823.04" x2="365.75" y2="823.04" stroke="#000" stroke-width="1.4"/>
<text x="368.745" y="966.3" font-size="13.6" font-weight="bold" text-anchor="end" transform="rotate(-57 368.745 966.3)">L1236</text>
<rect x="380.92" y="915.16" width="11.40" height="24.64" fill="#000"/>
<line x1="386.62" y1="911.80" x2="386.62" y2="915.16" stroke="#000" stroke-width="1.5"/>
<line x1="383.62" y1="911.80" x2="389.62" y2="911.80" stroke="#000" stroke-width="1.4"/>
<text x="392.615" y="966.3" font-size="13.6" font-weight="bold" text-anchor="end" transform="rotate(-57 392.615 966.3)">KMH-2</text>
<rect x="428.66" y="819.68" width="11.40" height="120.12" fill="#000"/>
<line x1="434.36" y1="813.24" x2="434.36" y2="819.68" stroke="#000" stroke-width="1.5"/>
<line x1="431.36" y1="813.24" x2="437.36" y2="813.24" stroke="#000" stroke-width="1.4"/>
<text x="440.355" y="966.3" font-size="13.6" font-weight="bold" text-anchor="end" transform="rotate(-57 440.355 966.3)">L428c24</text>
<rect x="452.53" y="812.12" width="11.40" height="127.68" fill="#000"/>
<line x1="458.23" y1="805.96" x2="458.23" y2="812.12" stroke="#000" stroke-width="1.5"/>
<line x1="455.23" y1="805.96" x2="461.23" y2="805.96" stroke="#000" stroke-width="1.4"/>
<text x="464.225" y="966.3" font-size="13.6" font-weight="bold" text-anchor="end" transform="rotate(-57 464.225 966.3)">L428c48</text>
<rect x="476.40" y="853.56" width="11.40" height="86.24" fill="#000"/>
<line x1="482.10" y1="839.28" x2="482.10" y2="853.56" stroke="#000" stroke-width="1.5"/>
<line x1="479.10" y1="839.28" x2="485.10" y2="839.28" stroke="#000" stroke-width="1.4"/>
<text x="488.095" y="966.3" font-size="13.6" font-weight="bold" text-anchor="end" transform="rotate(-57 488.095 966.3)">L428i24</text>
<rect x="500.27" y="873.72" width="11.40" height="66.08" fill="#000"/>
<line x1="505.97" y1="865.88" x2="505.97" y2="873.72" stroke="#000" stroke-width="1.5"/>
<line x1="502.97" y1="865.88" x2="508.97" y2="865.88" stroke="#000" stroke-width="1.4"/>
<text x="511.96500000000003" y="966.3" font-size="13.6" font-weight="bold" text-anchor="end" transform="rotate(-57 511.96500000000003 966.3)">L428i48</text>
<text x="215.8" y="860.8" font-size="12.7" font-weight="bold" text-anchor="middle" transform="rotate(-90 215.8 860.8)">Fluorescence Intensity</text>
<text x="229.8" y="861.3" font-size="12.7" font-weight="bold" text-anchor="middle" transform="rotate(-90 229.8 861.3)">(peak)</text>
</g>
</svg></body></html>
